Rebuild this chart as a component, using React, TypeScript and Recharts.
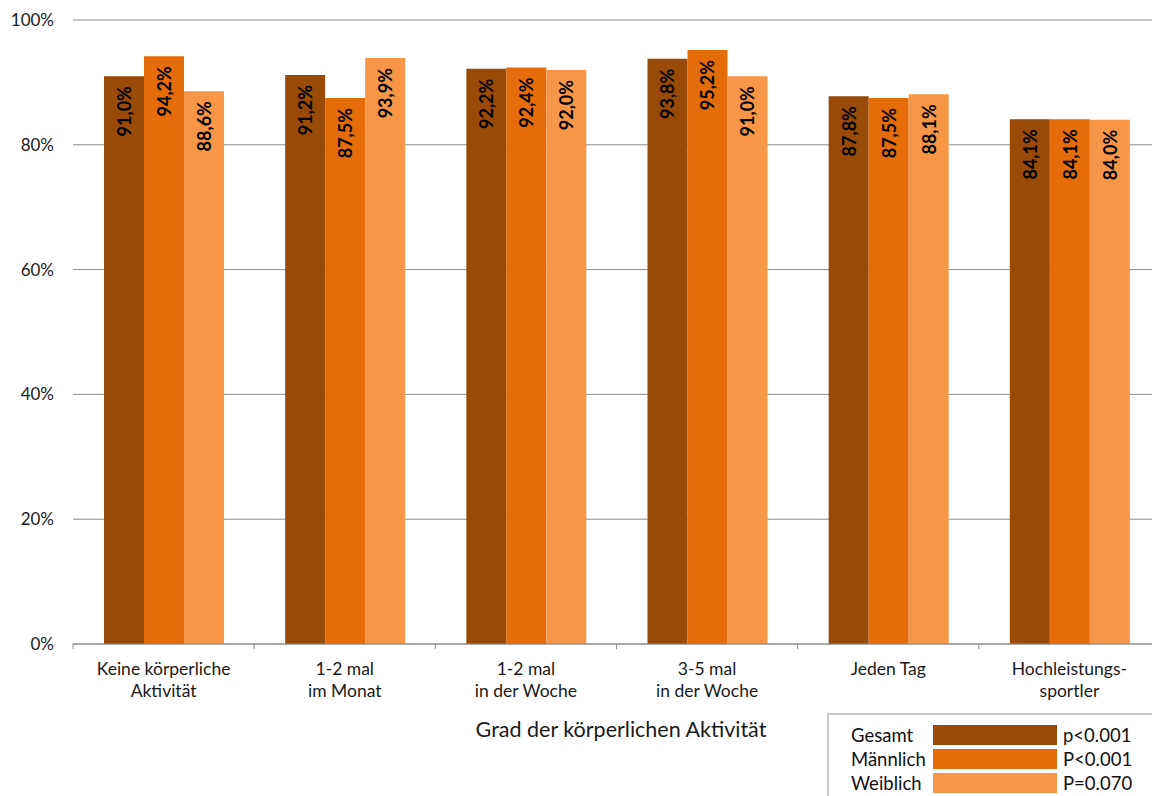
import React from 'react';
import { BarChart, Bar, XAxis, YAxis, CartesianGrid, LabelList } from 'recharts';

// Activity levels (two-line axis labels)
const categories: string[][] = [
  ['Keine körperliche', 'Aktivität'],
  ['1-2 mal', 'im Monat'],
  ['1-2 mal', 'in der Woche'],
  ['3-5 mal', 'in der Woche'],
  ['Jeden Tag'],
  ['Hochleistungs-', 'sportler'],
];

// Share in percent per group
const gesamt = [91.0, 91.2, 92.2, 93.8, 87.8, 84.1];
const maennlich = [94.2, 87.5, 92.4, 95.2, 87.5, 84.1];
const weiblich = [88.6, 93.9, 92.0, 91.0, 88.1, 84.0];

const seriesNames = ['Gesamt', 'Männlich', 'Weiblich'];
const pValues = ['p<0.001', 'P<0.001', 'P=0.070'];
const seriesColors = ['#9A4A07', '#E46C0A', '#F79646'];

const yTicks = [0, 20, 40, 60, 80, 100];
const axisTitle = 'Grad der körperlichen Aktivität';

const data = categories.map((c, i) => ({
  key: c.join(' '),
  lines: c,
  g: gesamt[i],
  m: maennlich[i],
  w: weiblich[i],
}));

const FONT = 'Lato, "Noto Sans", sans-serif';

const fmt = (v: number) => v.toFixed(1).replace('.', ',') + '%';

const BarValueLabel = (props: any) => {
  const { x, y, width, value } = props;
  const cx = x + width / 2;
  const ty = y + 10;
  return (
    <text
      x={cx}
      y={ty}
      transform={`rotate(-90, ${cx}, ${ty})`}
      textAnchor="end"
      dominantBaseline="central"
      fontFamily={FONT}
      fontWeight={700}
      fontSize={18}
      fill="#000"
    >
      {fmt(value)}
    </text>
  );
};

// Category label plus boundary tick marks between the groups
const CategoryTick = (props: any) => {
  const { x, y, payload, index } = props;
  const half = payload && payload.offset ? payload.offset : 90.6;
  const row = data[index] || data.find((d) => d.key === payload.value);
  const lines: string[] = row ? row.lines : [String(payload.value)];
  return (
    <g>
      <line x1={x - half} y1={y} x2={x - half} y2={y + 5} stroke="#8c8c8c" />
      {index === data.length - 1 && (
        <line x1={x + half} y1={y} x2={x + half} y2={y + 5} stroke="#8c8c8c" />
      )}
      {lines.map((l, i) => (
        <text
          key={i}
          x={x}
          y={y + 31 + i * 22}
          textAnchor="middle"
          fontFamily={FONT}
          fontSize={17.5}
          fill="#1a1a1a"
        >
          {l}
        </text>
      ))}
    </g>
  );
};

const LegendBox = () => (
  <div
    style={{
      position: 'absolute',
      left: 827,
      top: 713,
      border: '2px solid #c8c8c8',
      padding: '8px 0 4px 22px',
      width: 340,
      fontFamily: FONT,
      fontSize: 18.5,
      color: '#111',
      background: '#fff',
      boxSizing: 'border-box',
    }}
  >
    {seriesNames.map((n, i) => (
      <div key={n} style={{ display: 'flex', alignItems: 'center', height: 24 }}>
        <span style={{ width: 82, whiteSpace: 'nowrap' }}>{n}</span>
        <span style={{ width: 124, height: 20, background: seriesColors[i], display: 'inline-block', flex: 'none' }} />
        <span style={{ marginLeft: 6 }}>{pValues[i]}</span>
      </div>
    ))}
  </div>
);

export default function App() {
  return (
    <div
      style={{
        position: 'absolute',
        left: 0,
        top: 0,
        width: 1152,
        height: 796,
        overflow: 'hidden',
        background: '#fff',
      }}
    >
      <BarChart
        width={1161}
        height={796}
        data={data}
        margin={{ top: 20, right: 1, bottom: 0, left: 0 }}
        barSize={40}
        barGap={0}
      >
        <CartesianGrid vertical={false} stroke="#8c8c8c" strokeWidth={1} />
        <XAxis
          dataKey="key"
          height={152}
          axisLine={{ stroke: '#8c8c8c' }}
          tickLine={false}
          tickSize={0}
          tickMargin={0}
          interval={0}
          tick={<CategoryTick />}
        />
        <YAxis
          domain={[0, 100]}
          ticks={yTicks}
          width={73}
          axisLine={false}
          tickLine={false}
          tickSize={0}
          tickMargin={19}
          tickFormatter={(v: number) => `${v}%`}
          tick={{ fontFamily: FONT, fontSize: 17, fill: '#1a1a1a' }}
        />
        <Bar dataKey="g" name={seriesNames[0]} fill={seriesColors[0]} isAnimationActive={false}>
          <LabelList dataKey="g" content={<BarValueLabel />} />
        </Bar>
        <Bar dataKey="m" name={seriesNames[1]} fill={seriesColors[1]} isAnimationActive={false}>
          <LabelList dataKey="m" content={<BarValueLabel />} />
        </Bar>
        <Bar dataKey="w" name={seriesNames[2]} fill={seriesColors[2]} isAnimationActive={false}>
          <LabelList dataKey="w" content={<BarValueLabel />} />
        </Bar>
        <text
          x={621}
          y={737}
          textAnchor="middle"
          fontFamily={FONT}
          fontSize={21.5}
          fill="#1a1a1a"
        >
          {axisTitle}
        </text>
      </BarChart>
      <LegendBox />
    </div>
  );
}
